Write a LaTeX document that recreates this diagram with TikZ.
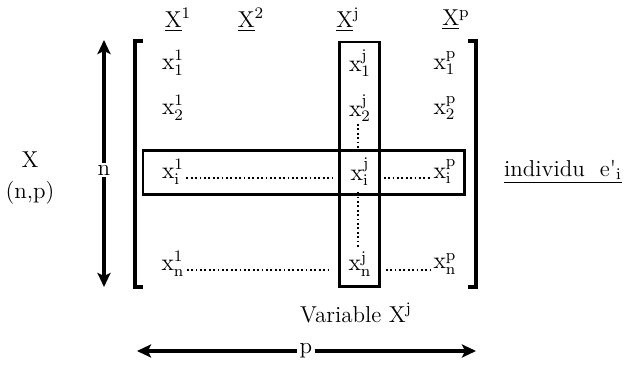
\documentclass[tikz,border=0pt]{standalone}
\usetikzlibrary{arrows.meta}

\newcommand{\entry}[2]{$\mathrm{x}^{\mathrm{#1}}_{\mathrm{#2}}$}
\newcommand{\varhead}[1]{\underline{X}\textsuperscript{#1}}

\begin{document}
\begin{tikzpicture}[x=0.5pt, y=-0.5pt, font=\fontsize{11.5}{14}\selectfont,
  bracket/.style={line width=1.8pt},
  boxline/.style={line width=1.2pt},
  cell/.style={inner sep=1pt},
  dots/.style={line width=0.9pt, dash pattern=on 0.9pt off 1.3pt},
  dimarrow/.style={line width=2pt, -{Stealth[length=7pt, width=6.5pt, inset=1.5pt]}}]

  \useasboundingbox (0,0) rectangle (631,367);

  % Matrix brackets
  \draw[bracket] (143,41) -- (135,41) -- (135,287) -- (143,287);
  \draw[bracket] (468,41) -- (476,41) -- (476,287) -- (468,287);

  % Column j and row i boxes
  \draw[boxline] (339.5,42) rectangle (379.5,286.5);
  \draw[boxline] (143,150.5) rectangle (464.5,194.5);

  % Column headers
  \node (h1) at (178,20) {\varhead{1}};
  \node (h2) at (251,20) {\varhead{2}};
  \node (hj) at (348,20) {\varhead{j}};
  \node (hp) at (456,20) {\varhead{p}};

  % Entries
  \node[cell] (x11) at (173,63)  {\entry{1}{1}};
  \node[cell] (x12) at (173,108) {\entry{1}{2}};
  \node[cell] (x1i) at (173,172) {\entry{1}{i}};
  \node[cell] (x1n) at (173,264) {\entry{1}{n}};
  \node[cell] (xj1) at (360,63)  {\entry{j}{1}};
  \node[cell] (xj2) at (360,108) {\entry{j}{2}};
  \node[cell] (xji) at (360,172) {\entry{j}{i}};
  \node[cell] (xjn) at (360,264) {\entry{j}{n}};
  \node[cell] (xp1) at (445,63)  {\entry{p}{1}};
  \node[cell] (xp2) at (445,108) {\entry{p}{2}};
  \node[cell] (xpi) at (445,172) {\entry{p}{i}};
  \node[cell] (xpn) at (445,264) {\entry{p}{n}};

  % Dotted continuations
  \draw[dots, shorten >=8pt] ([yshift=-3pt]x1i.east) -- ([yshift=-3pt]xji.west);
  \draw[dots, shorten <=6pt] ([yshift=-3pt]xji.east) -- ([yshift=-3pt]xpi.west);
  \draw[dots, shorten >=8pt] ([yshift=-3pt]x1n.east) -- ([yshift=-3pt]xjn.west);
  \draw[dots, shorten <=6pt] ([yshift=-3pt]xjn.east) -- ([yshift=-3pt]xpn.west);
  \draw[dots, shorten >=4pt] ([xshift=-1pt]xj2.south) -- ([xshift=-1pt]xji.north);
  \draw[dots, shorten <=2pt] ([xshift=-1pt]xji.south) -- ([xshift=-1pt]xjn.north);

  % Side labels
  \node (mx)  at (30,160) {X};
  \node (mnp) at (30,193) {(n,p)};
  \node (ind) at (563,172) {\underline{individu\ \ e\textquotesingle$_{\mathrm{i}}$}};
  \node (var) at (356,313) {Variable X\textsuperscript{j}};

  % Dimension arrows
  \coordinate (ntop) at (104,40);
  \coordinate (nbot) at (104,287);
  \node[inner sep=1pt] (n) at (104,170) {n};
  \draw[dimarrow] (n.north) -- (ntop);
  \draw[dimarrow] (n.south) -- (nbot);

  \coordinate (pleft) at (137,351);
  \coordinate (pright) at (476,351);
  \node[inner sep=1pt] (p) at (306,351) {p};
  \draw[dimarrow] (p.west) -- (pleft);
  \draw[dimarrow] (p.east) -- (pright);

\end{tikzpicture}
\end{document}
